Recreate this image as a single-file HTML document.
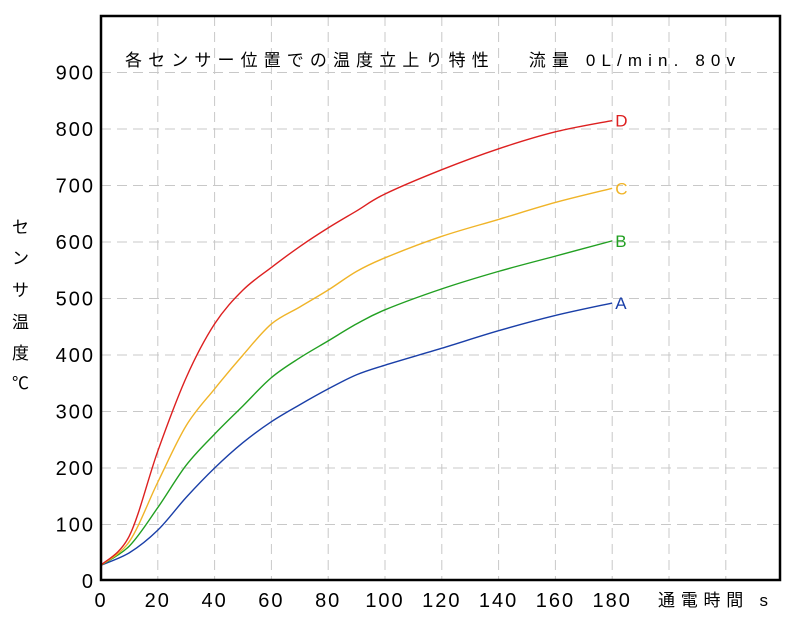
<!DOCTYPE html>
<html><head><meta charset="utf-8"><style>
body{margin:0;background:#fff;}
svg text{font-family:"Liberation Sans","Noto Sans CJK JP",sans-serif;}
</style></head><body>
<svg width="788" height="620" id="c" xmlns="http://www.w3.org/2000/svg">
<rect x="0" y="0" width="788" height="620" fill="#fff"/>
<g id="grid"></g>
<g id="series"></g>
<rect x="101" y="16" width="679" height="564" fill="none" stroke="#000" stroke-width="2.5"/>
<g id="ticks"></g>
<text x="125" y="66" font-size="17" textLength="610" lengthAdjust="spacing">各センサー位置での温度立上り特性　 流量 0L/min. 80v</text>
<g font-size="17">
<text x="12" y="233">セ</text><text x="12" y="264">ン</text><text x="12" y="296">サ</text><text x="12" y="328">温</text><text x="12" y="359">度</text><text x="12" y="389">℃</text>
</g>
<text x="658" y="606" font-size="17" textLength="110" lengthAdjust="spacing">通電時間 s</text>
</svg>
<script>
const xs=[0,10,20,30,40,50,60,70,80,90,100,120,140,160,180];
const seriesNames=["A","B","C","D"];
const seriesColors=["#1a3fa8","#22a022","#f0b428","#dd2020"];
const valsA=[28,50,90,148,200,245,282,312,340,365,382,412,443,470,492];
const valsB=[28,62,130,205,260,310,360,395,425,455,480,517,548,575,602];
const valsC=[28,70,175,275,340,400,455,485,515,548,572,610,640,670,695];
const valsD=[28,80,230,360,455,515,555,592,625,655,685,728,765,795,815];
const xTicks=[0,20,40,60,80,100,120,140,160,180];
const yTicks=[0,100,200,300,400,500,600,700,800,900];
const X=v=>101+v*2.84, Y=v=>581-v*0.565;
const NS="http://www.w3.org/2000/svg";
const g=document.getElementById('grid'),t=document.getElementById('ticks'),s=document.getElementById('series');
function mk(tag,a,p){const e=document.createElementNS(NS,tag);for(const k in a)e.setAttribute(k,a[k]);p.appendChild(e);return e;}
xTicks.concat([200,220]).forEach(v=>{if(v>0){const l=mk('line',{x1:X(v),x2:X(v),y1:16,y2:580,stroke:'#c8c8c8','stroke-dasharray':'10,6'},g);

}});
yTicks.forEach(v=>{if(v>0){const l=mk('line',{x1:101,x2:780,y1:Y(v),y2:Y(v),stroke:'#c8c8c8','stroke-dasharray':'10,6'},g);

}
const tx=mk('text',{x:95,y:Y(v)+7,'font-size':20,'text-anchor':'end','letter-spacing':'2'},t);tx.textContent=v;

});
xTicks.forEach(v=>{const tx=mk('text',{x:X(v),y:607,'font-size':20,'text-anchor':'middle','letter-spacing':'2'},t);tx.textContent=v;

});
function smooth(pts){let d='M'+pts[0][0]+','+pts[0][1];for(let i=0;i<pts.length-1;i++){const p0=pts[i-1]||pts[i],p1=pts[i],p2=pts[i+1],p3=pts[i+2]||p2;
d+=' C'+(p1[0]+(p2[0]-p0[0])/6)+','+(p1[1]+(p2[1]-p0[1])/6)+' '+(p2[0]-(p3[0]-p1[0])/6)+','+(p2[1]-(p3[1]-p1[1])/6)+' '+p2[0]+','+p2[1];}return d;}
[valsA,valsB,valsC,valsD].forEach((vals,i)=>{
const pts=xs.map((x,j)=>[X(x),Y(vals[j])]);
const p=mk('path',{d:smooth(pts),fill:'none',stroke:seriesColors[i],'stroke-width':1.4},s);


const tx=mk('text',{x:X(xs[xs.length-1])+3,y:Y(vals[vals.length-1])+6,'font-size':17,fill:seriesColors[i]},s);tx.textContent=seriesNames[i];

});
</script>
</body></html>
